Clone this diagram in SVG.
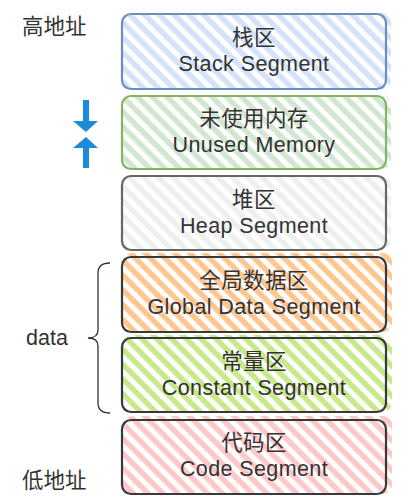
<svg xmlns="http://www.w3.org/2000/svg" width="415" height="504" viewBox="0 0 415 504">
<style>
.lbl{font-family:"Liberation Sans","Noto Sans CJK SC",Arial,sans-serif;font-size:21.5px;letter-spacing:0.4px;fill:#333333;text-anchor:middle;dominant-baseline:central}
.side{font-family:"Liberation Sans","Noto Sans CJK SC",Arial,sans-serif;font-size:21.5px;fill:#333333;dominant-baseline:central}
.box{stroke-width:2.2;stroke-linejoin:round;fill:none}
.spill{stroke:none}
</style>
<defs>
<pattern id="hBlue" width="10.5" height="10.5" patternUnits="userSpaceOnUse" patternTransform="rotate(45)"><rect width="10.5" height="5.5" fill="#d4e3fa"/></pattern>
<pattern id="hGreen" width="10.5" height="10.5" patternUnits="userSpaceOnUse" patternTransform="rotate(45)"><rect width="10.5" height="5.5" fill="#d2e7d0"/></pattern>
<pattern id="hGray" width="10.5" height="10.5" patternUnits="userSpaceOnUse" patternTransform="rotate(45)"><rect width="10.5" height="5.5" fill="#efefef"/></pattern>
<pattern id="hOrange" width="10.5" height="10.5" patternUnits="userSpaceOnUse" patternTransform="rotate(45)"><rect width="10.5" height="5.5" fill="#ffc690"/></pattern>
<pattern id="hLime" width="10.5" height="10.5" patternUnits="userSpaceOnUse" patternTransform="rotate(45)"><rect width="10.5" height="5.5" fill="#c8e98a"/></pattern>
<pattern id="hRed" width="10.5" height="10.5" patternUnits="userSpaceOnUse" patternTransform="rotate(45)"><rect width="10.5" height="5.5" fill="#ffc8c8"/></pattern>
</defs>
<rect width="415" height="504" fill="#ffffff"/>

<g id="stack">
<rect class="spill" x="123" y="13" width="268" height="76" rx="9" fill="url(#hBlue)"/>
<rect class="box" x="122" y="14" width="264" height="75" rx="9" stroke="#6c8ebf"/>
<text class="lbl" x="254" y="38">栈区</text>
<text class="lbl" x="254" y="64">Stack Segment</text>
</g>
<g id="unused">
<rect class="spill" x="123" y="95" width="268" height="74" rx="9" fill="url(#hGreen)"/>
<rect class="box" x="122" y="96" width="264" height="73" rx="9" stroke="#82b366"/>
<text class="lbl" x="254" y="119">未使用内存</text>
<text class="lbl" x="254" y="145">Unused Memory</text>
</g>
<g id="heap">
<rect class="spill" x="123" y="175" width="268" height="75" rx="9" fill="url(#hGray)"/>
<rect class="box" x="122" y="176" width="264" height="74" rx="9" stroke="#666666"/>
<text class="lbl" x="254" y="200">堆区</text>
<text class="lbl" x="254" y="226">Heap Segment</text>
</g>
<g id="global">
<rect class="spill" x="123" y="253" width="269" height="79" rx="9" fill="url(#hOrange)"/>
<rect class="box" x="122" y="257" width="264" height="75" rx="9" stroke="#36393d"/>
<text class="lbl" x="254" y="281">全局数据区</text>
<text class="lbl" x="254" y="307">Global Data Segment</text>
</g>
<g id="const">
<rect class="spill" x="123" y="335" width="269" height="77" rx="9" fill="url(#hLime)"/>
<rect class="box" x="122" y="338" width="264" height="74" rx="9" stroke="#36393d"/>
<text class="lbl" x="254" y="362">常量区</text>
<text class="lbl" x="254" y="388">Constant Segment</text>
</g>
<g id="code">
<rect class="spill" x="123" y="416" width="269" height="78" rx="9" fill="url(#hRed)"/>
<rect class="box" x="122" y="420" width="264" height="74" rx="9" stroke="#36393d"/>
<text class="lbl" x="254" y="443">代码区</text>
<text class="lbl" x="254" y="469">Code Segment</text>
</g>

<g id="labels">
<text class="side" x="22" y="27">高地址</text>
<text class="side" x="22" y="481">低地址</text>
<text class="side" x="26" y="338">data</text>
</g>

<g id="connectors">
<path d="M110,263 Q98,263 98,273 L98,330 Q98,338 88,338 Q98,338 98,346 L98,403 Q98,413 110,413" fill="none" stroke="#333333" stroke-width="1.3"/>
<g fill="#1a8cd8">
<rect x="83" y="100" width="6" height="22"/>
<polygon points="73,121 98,121 86,132"/>
<polygon points="86,137 73,148 98,148"/>
<rect x="83" y="147" width="6" height="21"/>
</g>
</g>
</svg>
